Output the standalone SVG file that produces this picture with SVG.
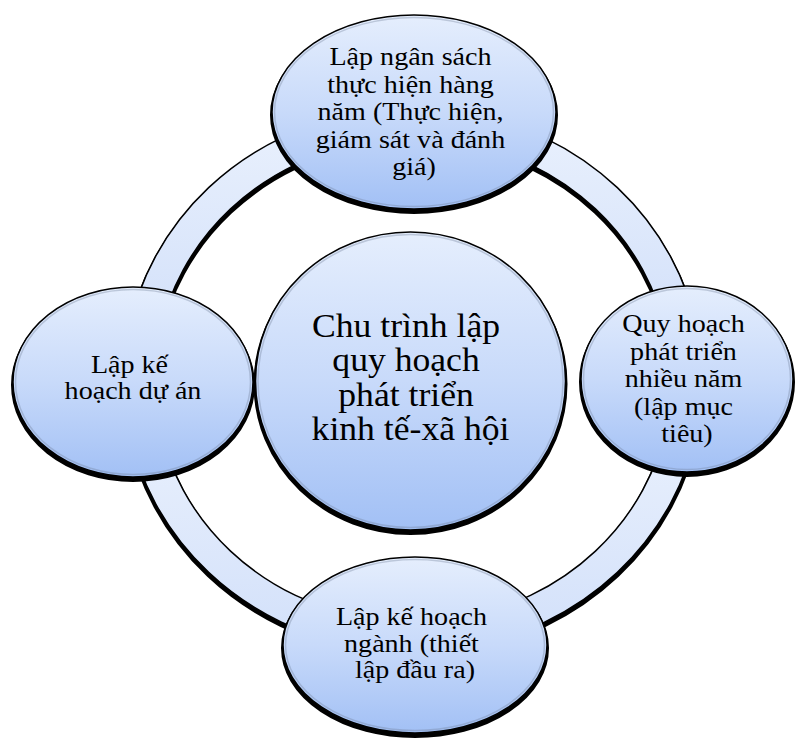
<svg xmlns="http://www.w3.org/2000/svg" width="796" height="740" viewBox="0 0 796 740">
  <defs>
    <linearGradient id="nodeFill" x1="0" y1="0" x2="0" y2="1">
      <stop offset="0" stop-color="#e5eefd"/>
      <stop offset="0.5" stop-color="#c8dafa"/>
      <stop offset="1" stop-color="#a2c0f5"/>
    </linearGradient>
    <linearGradient id="arcFill" x1="0" y1="0" x2="0" y2="1">
      <stop offset="0" stop-color="#eaf1fd"/>
      <stop offset="1" stop-color="#d2e0fa"/>
    </linearGradient>
    <style>
      .shadow { fill: #000; stroke: #000; stroke-width: 4; }
      .arc { fill: url(#arcFill); stroke: #000; stroke-width: 1.5; stroke-linejoin: round; }
      .node { fill: url(#nodeFill); stroke: #000; stroke-width: 1.5; }
      .bevel { fill: none; stroke: #6f7f99; stroke-opacity: 0.35; stroke-width: 1.5; }
      .label { font-family: "Liberation Serif", "Times New Roman", serif; font-size: 26px; fill: #000; text-anchor: middle; }
      .title { font-size: 33px; }
    </style>
  </defs>

  <!-- ring segments joining the four outer nodes -->
  <g id="connectors">
    <g id="arc-top-left">
      <path class="shadow" transform="translate(0 3)" d="M128.4 332.8 A289 272 0 0 1 362.8 112.1 L368.2 141.7 A258 242 0 0 0 158.9 338 Z"/>
      <path class="arc" d="M128.4 332.8 A289 272 0 0 1 362.8 112.1 L368.2 141.7 A258 242 0 0 0 158.9 338 Z"/>
    </g>
    <g id="arc-top-right">
      <path class="shadow" transform="translate(0 3)" d="M463.2 112.1 A289 272 0 0 1 697.6 332.8 L667.1 338 A258 242 0 0 0 457.8 141.7 Z"/>
      <path class="arc" d="M463.2 112.1 A289 272 0 0 1 697.6 332.8 L667.1 338 A258 242 0 0 0 457.8 141.7 Z"/>
    </g>
    <g id="arc-bottom-right">
      <path class="shadow" transform="translate(0 3)" d="M697.6 427.2 A289 272 0 0 1 463.2 647.9 L457.8 618.3 A258 242 0 0 0 667.1 422 Z"/>
      <path class="arc" d="M697.6 427.2 A289 272 0 0 1 463.2 647.9 L457.8 618.3 A258 242 0 0 0 667.1 422 Z"/>
    </g>
    <g id="arc-bottom-left">
      <path class="shadow" transform="translate(0 3)" d="M362.8 647.9 A289 272 0 0 1 128.4 427.2 L158.9 422 A258 242 0 0 0 368.2 618.3 Z"/>
      <path class="arc" d="M362.8 647.9 A289 272 0 0 1 128.4 427.2 L158.9 422 A258 242 0 0 0 368.2 618.3 Z"/>
    </g>
  </g>

  <!-- centre -->
  <g id="node-center">
    <ellipse class="shadow" transform="translate(0 3)" cx="410.5" cy="381" rx="155" ry="149"/>
    <ellipse class="node" cx="410.5" cy="381" rx="155" ry="149"/>
    <ellipse class="bevel" cx="410.5" cy="381" rx="152.5" ry="146.5"/>
    <text class="label title" transform="translate(410.5 0) scale(1.08 1)">
      <tspan x="0" y="337">Chu trình lập</tspan>
      <tspan x="0" y="371.5">quy hoạch</tspan>
      <tspan x="0" y="406">phát triển</tspan>
      <tspan x="0" y="440.5">kinh tế-xã hội</tspan>
    </text>
  </g>

  <!-- top -->
  <g id="node-top">
    <ellipse class="shadow" transform="translate(0 3)" cx="414" cy="112" rx="142" ry="97"/>
    <ellipse class="node" cx="414" cy="112" rx="142" ry="97"/>
    <ellipse class="bevel" cx="414" cy="112" rx="139.5" ry="94.5"/>
    <text class="label" transform="translate(414 0) scale(1.08 1)">
      <tspan x="0" y="65">Lập ngân sách</tspan>
      <tspan x="0" y="93">thực hiện hàng</tspan>
      <tspan x="0" y="120">năm (Thực hiện,</tspan>
      <tspan x="0" y="148">giám sát và đánh</tspan>
      <tspan x="0" y="175">giá)</tspan>
    </text>
  </g>

  <!-- right -->
  <g id="node-right">
    <ellipse class="shadow" transform="translate(0 3)" cx="687" cy="379" rx="106" ry="93"/>
    <ellipse class="node" cx="687" cy="379" rx="106" ry="93"/>
    <ellipse class="bevel" cx="687" cy="379" rx="103.5" ry="90.5"/>
    <text class="label" transform="translate(687 0) scale(1.08 1)">
      <tspan x="0" y="332">Quy hoạch</tspan>
      <tspan x="0" y="360">phát triển</tspan>
      <tspan x="0" y="387">nhiều năm</tspan>
      <tspan x="0" y="415">(lập mục</tspan>
      <tspan x="0" y="442">tiêu)</tspan>
    </text>
  </g>

  <!-- bottom -->
  <g id="node-bottom">
    <ellipse class="shadow" transform="translate(0 3)" cx="415" cy="645" rx="132" ry="88"/>
    <ellipse class="node" cx="415" cy="645" rx="132" ry="88"/>
    <ellipse class="bevel" cx="415" cy="645" rx="129.5" ry="85.5"/>
    <text class="label" transform="translate(415 0) scale(1.08 1)">
      <tspan x="0" y="625">Lập kế hoạch</tspan>
      <tspan x="0" y="652">ngành (thiết</tspan>
      <tspan x="0" y="678">lập đầu ra)</tspan>
    </text>
  </g>

  <!-- left -->
  <g id="node-left">
    <ellipse class="shadow" transform="translate(0 3)" cx="133" cy="382" rx="120" ry="95"/>
    <ellipse class="node" cx="133" cy="382" rx="120" ry="95"/>
    <ellipse class="bevel" cx="133" cy="382" rx="117.5" ry="92.5"/>
    <text class="label" transform="translate(133 0) scale(1.08 1)">
      <tspan x="0" y="373">Lập kế</tspan>
      <tspan x="0" y="399">hoạch dự án</tspan>
    </text>
  </g>
</svg>
